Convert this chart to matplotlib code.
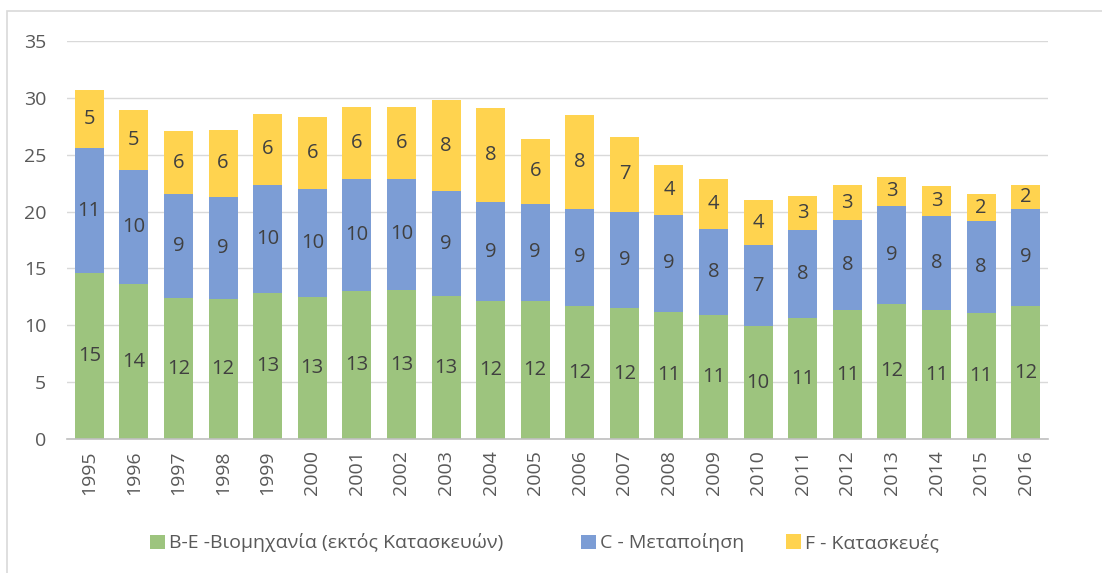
import matplotlib
matplotlib.use('Agg')
import matplotlib.pyplot as plt
import numpy as np

plt.rcParams['font.family'] = ['Open Sans', 'Noto Sans', 'DejaVu Sans']

years = [str(y) for y in range(1995, 2017)]

# B-E Industry (excluding construction)
industry = [14.57, 13.61, 12.41, 12.29, 12.82, 12.52, 12.99, 13.11, 12.55, 12.12, 12.12,
            11.71, 11.50, 11.21, 10.92, 9.92, 10.62, 11.33, 11.91, 11.33, 11.09, 11.71]
# C Manufacturing
manufacturing = [11.04, 10.07, 9.10, 8.99, 9.55, 9.50, 9.87, 9.75, 9.22, 8.69, 8.57,
                 8.52, 8.50, 8.50, 7.55, 7.14, 7.76, 7.93, 8.55, 8.25, 8.08, 8.52]
# F Construction
construction = [5.06, 5.23, 5.55, 5.91, 6.20, 6.30, 6.35, 6.35, 7.98, 8.28, 5.71,
                8.27, 6.51, 4.39, 4.42, 3.95, 3.01, 3.04, 2.60, 2.63, 2.34, 2.12]

labels = ['B-E -Βιομηχανία (εκτός Κατασκευών)', 'C - Μεταποίηση', 'F - Κατασκευές']
colors = ['#9DC47E', '#7C9DD5', '#FFD34F']

W, H = 1102, 573
fig = plt.figure(figsize=(W / 100, H / 100), dpi=100)
ax = fig.add_axes([67 / W, 1 - 439.3 / H, (1048 - 67) / W, (439.3 - 40.7) / H])

x = np.arange(len(years))
bottom = np.zeros(len(years))
handles = []
for vals, col, lab in zip([industry, manufacturing, construction], colors, labels):
    vals = np.array(vals)
    h = ax.bar(x, vals, 0.65, bottom=bottom, color=col, label=lab, zorder=2)
    handles.append(h)
    for xi, b, v in zip(x, bottom, vals):
        # excel style rounding (half up)
        ax.text(xi, b + v / 2, '%d' % int(v + 0.5), ha='center', va='center',
                fontsize=14.5, color='#404040', zorder=3)
    bottom = bottom + vals

ax.set_xlim(-0.5, len(years) - 0.5)
ax.set_ylim(0, 35)
ax.set_yticks(range(0, 36, 5))
ax.set_xticks(x)
ax.set_xticklabels(years, rotation=90)
ax.grid(axis='y', color='#D9D9D9', linewidth=1, zorder=0)
for s in ['top', 'right', 'left']:
    ax.spines[s].set_visible(False)
ax.spines['bottom'].set_color('#BFBFBF')
ax.spines['bottom'].set_linewidth(1.2)
ax.tick_params(axis='both', length=0, labelsize=14, colors='#595959')
ax.tick_params(axis='y', pad=15)
ax.tick_params(axis='x', pad=8)

# legend entries placed like excel does (not evenly spaced)
leg_x = [150, 581, 786]
for h, lab, lx in zip(handles, labels, leg_x):
    lg = fig.legend([h], [lab], loc='center left', bbox_to_anchor=(lx / W, 1 - 543 / H),
                    frameon=False, fontsize=14, handlelength=0.75, handleheight=0.75,
                    handletextpad=0.25, borderpad=0, borderaxespad=0, labelcolor='#595959')

# light chart border
fig.patches.append(plt.Rectangle((7 / W, -0.01), 1, 1 - 11 / H + 0.01, transform=fig.transFigure,
                                 fill=False, edgecolor='#D9D9D9', linewidth=1.2))

fig.savefig('out.png', dpi=100)
